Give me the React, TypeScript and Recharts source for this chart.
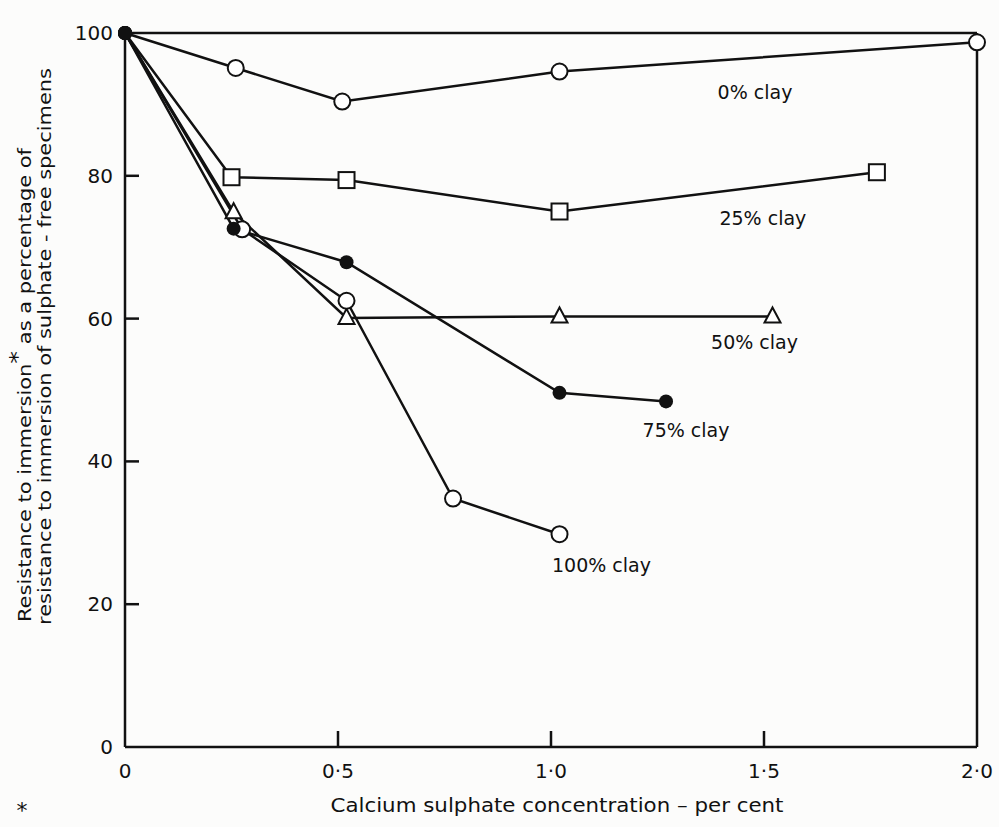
import React from 'react';
import { LineChart, Line, XAxis, YAxis, ReferenceLine, Customized } from 'recharts';

// tick values and their printed labels
const xTicks = [0, 0.5, 1.0, 1.5, 2.0];
const xTickLabels = ['0', '0·5', '1·0', '1·5', '2·0'];
const yTicks = [0, 20, 40, 60, 80, 100];

// x = CaSO4 %, y = resistance %
const clay0X = [0, 0.26, 0.51, 1.02, 2.0];
const clay0Y = [100, 95.1, 90.4, 94.6, 98.7];
const clay25X = [0, 0.25, 0.52, 1.02, 1.765];
const clay25Y = [100, 79.8, 79.4, 75.0, 80.5];
const clay50X = [0, 0.255, 0.52, 1.02, 1.52];
const clay50Y = [100, 74.9, 60.1, 60.3, 60.3];
const clay75X = [0, 0.255, 0.52, 1.02, 1.27];
const clay75Y = [100, 72.6, 67.9, 49.6, 48.4];
const clay100X = [0, 0.275, 0.52, 0.77, 1.02];
const clay100Y = [100, 72.5, 62.5, 34.8, 29.8];

const seriesNames = ['0% clay', '25% clay', '50% clay', '75% clay', '100% clay'];

const toPoints = (xs: number[], ys: number[]) => xs.map((x, i) => ({ x, y: ys[i] }));

const INK = '#111';
const FONT = '"DejaVu Sans", sans-serif';

type Marker = 'circle' | 'square' | 'triangle' | 'filled';

// where each curve's name sits, relative to its last point (px)
const labelOffset: Record<string, [number, number]> = {
  '0% clay': [-222, 50],
  '25% clay': [-114, 46],
  '50% clay': [-18, 26],
  '75% clay': [20, 29],
  '100% clay': [42, 31],
};

function drawMarker(kind: Marker, cx: number, cy: number) {
  if (kind === 'filled') return <circle cx={cx} cy={cy} r={7} fill={INK} />;
  if (kind === 'square')
    return <rect x={cx - 8} y={cy - 8} width={16} height={16} fill="#fff" stroke={INK} strokeWidth={2} />;
  if (kind === 'triangle')
    return (
      <path
        d={`M${cx},${cy - 9} L${cx + 8},${cy + 6} L${cx - 8},${cy + 6} Z`}
        fill="#fff"
        stroke={INK}
        strokeWidth={2}
      />
    );
  return <circle cx={cx} cy={cy} r={8} fill="#fff" stroke={INK} strokeWidth={2} />;
}

const makeDot = (kind: Marker, name: string, count: number) => (props: any) => {
  const { cx, cy, index } = props;
  if (cx == null || cy == null) return <g key={`d-${name}-${index}`} />;
  const [dx, dy] = labelOffset[name];
  return (
    <g key={`d-${name}-${index}`}>
      {index === 0 ? <circle cx={cx} cy={cy} r={7} fill={INK} /> : drawMarker(kind, cx, cy)}
      {index === count - 1 && (
        <text
          x={cx + dx}
          y={cy + dy}
          textAnchor="middle"
          dominantBaseline="central"
          fontFamily={FONT}
          fontSize={19}
          fill={INK}
        >
          {name}
        </text>
      )}
    </g>
  );
};

const XTick = (props: any) => {
  const { x, y, payload } = props;
  const label = xTickLabels[xTicks.indexOf(payload.value)];
  const inner = payload.value > 0 && payload.value < 2;
  return (
    <g>
      {inner && <line x1={x} y1={y} x2={x} y2={y - 16} stroke={INK} strokeWidth={2.5} />}
      <text x={x} y={y + 24} textAnchor="middle" dominantBaseline="central" fontFamily={FONT} fontSize={20} fill={INK}>
        {label}
      </text>
    </g>
  );
};

const YTick = (props: any) => {
  const { x, y, payload } = props;
  const inner = payload.value > 0 && payload.value < 100;
  return (
    <g>
      {inner && <line x1={x} y1={y} x2={x + 14} y2={y} stroke={INK} strokeWidth={2.5} />}
      <text x={x - 12} y={y} textAnchor="end" dominantBaseline="central" fontFamily={FONT} fontSize={20} fill={INK}>
        {payload.value}
      </text>
    </g>
  );
};

const Titles = () => (
  <g fontFamily={FONT} fill={INK}>
    <text x={557} y={805} textAnchor="middle" dominantBaseline="central" fontSize={19} textLength={453} lengthAdjust="spacingAndGlyphs">
      Calcium sulphate concentration – per cent
    </text>
    <text
      transform="translate(24,622) rotate(-90)"
      textAnchor="start"
      dominantBaseline="central"
      fontSize={18}
      textLength={474}
      lengthAdjust="spacingAndGlyphs"
    >
      Resistance to immersion<tspan dy={-7} fontSize={22}>*</tspan>
      <tspan dy={7}> as a percentage of</tspan>
    </text>
    <text
      transform="translate(44,625) rotate(-90)"
      textAnchor="start"
      dominantBaseline="central"
      fontSize={18}
      textLength={557}
      lengthAdjust="spacingAndGlyphs"
    >
      resistance to immersion of sulphate - free specimens
    </text>
    <text x={22} y={818} textAnchor="middle" fontSize={22}>
      *
    </text>
  </g>
);

const series: { name: string; xs: number[]; ys: number[]; marker: Marker }[] = [
  { name: seriesNames[0], xs: clay0X, ys: clay0Y, marker: 'circle' },
  { name: seriesNames[1], xs: clay25X, ys: clay25Y, marker: 'square' },
  { name: seriesNames[2], xs: clay50X, ys: clay50Y, marker: 'triangle' },
  { name: seriesNames[4], xs: clay100X, ys: clay100Y, marker: 'circle' },
  { name: seriesNames[3], xs: clay75X, ys: clay75Y, marker: 'filled' },
];

export default function App() {
  return (
    <div style={{ position: 'absolute', left: 0, top: 0, width: 999, height: 827, background: '#fcfcfb' }}>
      <LineChart width={999} height={827} margin={{ top: 33, right: 22, bottom: 20, left: 85 }}>
        <XAxis
          type="number"
          dataKey="x"
          domain={[0, 2]}
          ticks={xTicks}
          height={60}
          tickSize={0}
          tickMargin={0}
          tickLine={false}
          axisLine={{ stroke: INK, strokeWidth: 2.5 }}
          tick={<XTick />}
          interval={0}
        />
        <YAxis
          type="number"
          dataKey="y"
          domain={[0, 100]}
          ticks={yTicks}
          width={40}
          tickSize={0}
          tickMargin={0}
          tickLine={false}
          axisLine={{ stroke: INK, strokeWidth: 2.5 }}
          tick={<YTick />}
          interval={0}
        />
        <ReferenceLine y={100} stroke={INK} strokeWidth={2.5} />
        <ReferenceLine x={2} stroke={INK} strokeWidth={2.5} />
        {series.map((s) => (
          <Line
            key={s.name}
            data={toPoints(s.xs, s.ys)}
            dataKey="y"
            type="linear"
            stroke={INK}
            strokeWidth={2.5}
            dot={makeDot(s.marker, s.name, s.xs.length)}
            activeDot={false}
            isAnimationActive={false}
          />
        ))}
        <Customized component={Titles} />
      </LineChart>
    </div>
  );
}
